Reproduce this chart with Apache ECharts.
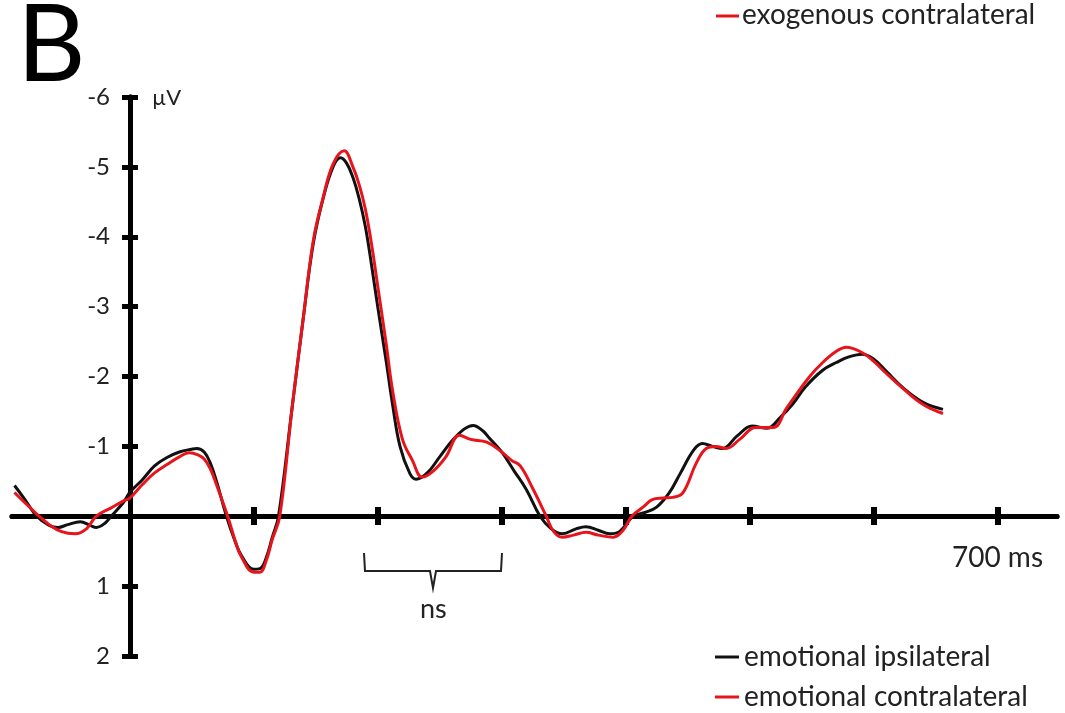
<!DOCTYPE html>
<html>
<head>
<meta charset="utf-8">
<script src="https://cdn.jsdelivr.net/npm/echarts@6/dist/echarts.min.js"></script>
<style>
  html, body { margin: 0; padding: 0; background: #fff; }
  #chart { width: 1065px; height: 713px; }
</style>
</head>
<body>
<div id="chart"></div>
<script>
// ERP waveforms, time in ms, amplitude in µV (negative plotted up)
const ipsiTimes = [-93, -85, -75, -65, -58, -50, -40, -32, -27, -20, -15, -5, 0, 10, 20, 30, 40, 50, 54, 60, 65, 70, 78, 85, 90, 100, 105, 110, 115, 120,
  131, 140, 148, 156, 164, 170, 175, 180, 185, 190, 195, 200, 207, 212, 218, 226, 231, 240, 250, 260, 270, 277, 285, 290, 300, 310, 320, 331,
  340, 349, 360, 368, 378, 387, 395, 406, 415, 425, 435, 444, 455, 462, 470, 478, 490, 502, 514, 525, 535, 545, 559, 570, 580, 591, 600, 610, 623, 640, 656]
const ipsiValues = [-0.44, -0.25, 0.0, 0.13, 0.16, 0.12, 0.08, 0.13, 0.16, 0.1, 0.0, -0.2, -0.34, -0.52, -0.72, -0.84, -0.92, -0.96, -0.97, -0.92, -0.76, -0.5, 0.0, 0.36, 0.56, 0.76, 0.75, 0.6, 0.3, 0.0,
  -1.56, -2.84, -3.9, -4.55, -5.0, -5.13, -5.05, -4.85, -4.55, -4.15, -3.6, -3.0, -2.2, -1.6, -1.0, -0.61, -0.53, -0.62, -0.85, -1.08, -1.25, -1.3, -1.22, -1.12, -0.92, -0.65, -0.38, 0.0,
  0.18, 0.25, 0.18, 0.15, 0.2, 0.25, 0.22, 0.0, -0.05, -0.13, -0.33, -0.61, -0.95, -1.04, -1.0, -0.97, -1.15, -1.29, -1.26, -1.42, -1.61, -1.85, -2.09, -2.2, -2.28, -2.32, -2.25, -2.08, -1.85, -1.63, -1.53]

const contraTimes = [-93, -85, -73, -65, -55, -44, -35, -27, -15, -5, 0, 10, 20, 30, 40, 48, 55, 60, 65, 70, 79, 85, 90, 100, 105, 110, 115, 121,
  131, 140, 148, 156, 164, 173, 180, 185, 190, 195, 200, 207, 212, 220, 228, 236, 245, 255, 266, 275, 288, 300, 308, 315, 325, 336,
  342, 349, 358, 368, 378, 390, 398, 405, 414, 422, 430, 438, 446, 457, 465, 473, 481, 492, 505, 519, 530, 548, 559, 570, 578, 591, 600, 610, 623, 640, 656]
const contraValues = [-0.34, -0.2, 0.0, 0.12, 0.22, 0.25, 0.18, 0.0, -0.12, -0.22, -0.26, -0.45, -0.62, -0.74, -0.85, -0.91, -0.88, -0.82, -0.68, -0.45, 0.0, 0.35, 0.58, 0.8, 0.8, 0.64, 0.33, 0.0,
  -1.56, -2.84, -3.94, -4.56, -5.04, -5.23, -5.0, -4.75, -4.4, -3.9, -3.3, -2.45, -1.8, -1.1, -0.8, -0.56, -0.65, -0.85, -1.16, -1.1, -1.06, -0.92, -0.8, -0.72, -0.4, 0.0,
  0.22, 0.3, 0.27, 0.23, 0.27, 0.3, 0.2, 0.0, -0.13, -0.24, -0.26, -0.27, -0.33, -0.76, -0.97, -1.0, -0.97, -1.1, -1.27, -1.27, -1.55, -1.99, -2.2, -2.36, -2.42, -2.34, -2.22, -2.05, -1.84, -1.6, -1.47]

const xTicks = [100, 200, 300, 400, 500, 600, 700]
const xLabels = [700]

const FONT = 'Lato, "Open Sans", sans-serif'
const TEXT = '#222'
const AXIS_W = 5

const chart = echarts.init(document.getElementById('chart'))

const zip = (ts, vs) => ts.map((t, i) => [t, vs[i]])
const hidden = { show: false }

chart.setOption({
  animation: false,
  // 0: waveforms, 1: amplitude axis at 0 ms, 2: time axis at 0 µV
  grid: [
    { left: 12, right: 8, top: 97, bottom: 57, outerBoundsMode: 'none' },
    { left: 130, right: 8, top: 97, bottom: 57, outerBoundsMode: 'none' },
    { left: 12, right: 8, top: 97, bottom: 197, outerBoundsMode: 'none' },
  ],
  xAxis: [
    { gridIndex: 0, type: 'value', min: -95, max: 748, show: false },
    { gridIndex: 1, type: 'value', min: 0, max: 748, show: false },
    {
      gridIndex: 2, type: 'value', min: -95, max: 748, position: 'bottom',
      splitLine: hidden,
      axisLine: { onZero: false, lineStyle: { color: '#000', width: AXIS_W } },
      axisTick: { customValues: xTicks, length: 9, lineStyle: { color: '#000', width: 6 } },
      axisLabel: {
        customValues: xLabels,
        formatter: '{value} ms',
        margin: 28,
        fontSize: 28,
        fontFamily: FONT,
        color: TEXT,
      },
    },
    {
      // same line again, ticks pointing up so they cross the axis
      gridIndex: 2, type: 'value', min: -95, max: 748, position: 'bottom', offset: 0,
      splitLine: hidden,
      axisLine: { onZero: false, lineStyle: { color: '#000', width: AXIS_W } },
      axisTick: { customValues: xTicks, inside: true, length: 9, lineStyle: { color: '#000', width: 6 } },
      axisLabel: hidden,
    },
  ],
  yAxis: [
    { gridIndex: 0, type: 'value', min: -6, max: 2, inverse: true, show: false },
    {
      gridIndex: 1, type: 'value', min: -6, max: 2, interval: 1, inverse: true, position: 'left',
      splitLine: hidden,
      axisLine: { onZero: false, lineStyle: { color: '#000', width: AXIS_W } },
      axisTick: { length: 8, lineStyle: { color: '#000', width: 5 } },
      axisLabel: {
        margin: 20,
        fontSize: 24,
        fontFamily: FONT,
        color: TEXT,
        formatter: (v) => (v === 0 ? '' : String(v)),
      },
    },
    {
      gridIndex: 1, type: 'value', min: -6, max: 2, interval: 1, inverse: true, position: 'left', offset: 0,
      splitLine: hidden,
      axisLine: { onZero: false, lineStyle: { color: '#000', width: AXIS_W } },
      axisTick: { inside: true, length: 8, lineStyle: { color: '#000', width: 5 } },
      axisLabel: hidden,
    },
    { gridIndex: 2, type: 'value', min: -6, max: 0, inverse: true, show: false },
  ],
  legend: {
    orient: 'vertical',
    left: 715,
    top: 643,
    padding: 0,
    icon: 'rect',
    itemWidth: 24,
    itemHeight: 3,
    itemGap: 12,
    textStyle: { fontSize: 28, fontFamily: FONT, color: TEXT, lineHeight: 28 },
    data: ['emotional ipsilateral', 'emotional contralateral'],
  },
  series: [
    {
      name: 'emotional ipsilateral',
      type: 'line',
      xAxisIndex: 0,
      yAxisIndex: 0,
      data: zip(ipsiTimes, ipsiValues),
      smooth: 0.4,
      showSymbol: false,
      lineStyle: { color: '#111', width: 3 },
      itemStyle: { color: '#111' },
    },
    {
      name: 'emotional contralateral',
      type: 'line',
      xAxisIndex: 0,
      yAxisIndex: 0,
      data: zip(contraTimes, contraValues),
      smooth: 0.4,
      showSymbol: false,
      lineStyle: { color: '#e8141c', width: 3 },
      itemStyle: { color: '#e8141c' },
    },
  ],
  graphic: [
    { type: 'text', left: 17, top: -6, style: { text: 'B', fontSize: 106, fontFamily: FONT, fill: '#000' } },
    { type: 'text', left: 152, top: 87, style: { text: 'µV', fontSize: 22, fontFamily: FONT, fill: TEXT } },
    { type: 'line', shape: { x1: 716, y1: 16, x2: 739, y2: 16 }, style: { stroke: '#e8141c', lineWidth: 3 } },
    { type: 'text', left: 742, top: 1, style: { text: 'exogenous contralateral', fontSize: 28, fontFamily: FONT, fill: TEXT } },
    {
      type: 'polyline',
      shape: { points: [[364, 553], [365, 571], [430, 571], [433, 588], [436, 571], [501, 571], [502, 553]] },
      style: { stroke: TEXT, lineWidth: 2, fill: null },
    },
    { type: 'text', left: 420, top: 596, style: { text: 'ns', fontSize: 27, fontFamily: FONT, fill: TEXT } },
  ],
})
</script>
</body>
</html>
